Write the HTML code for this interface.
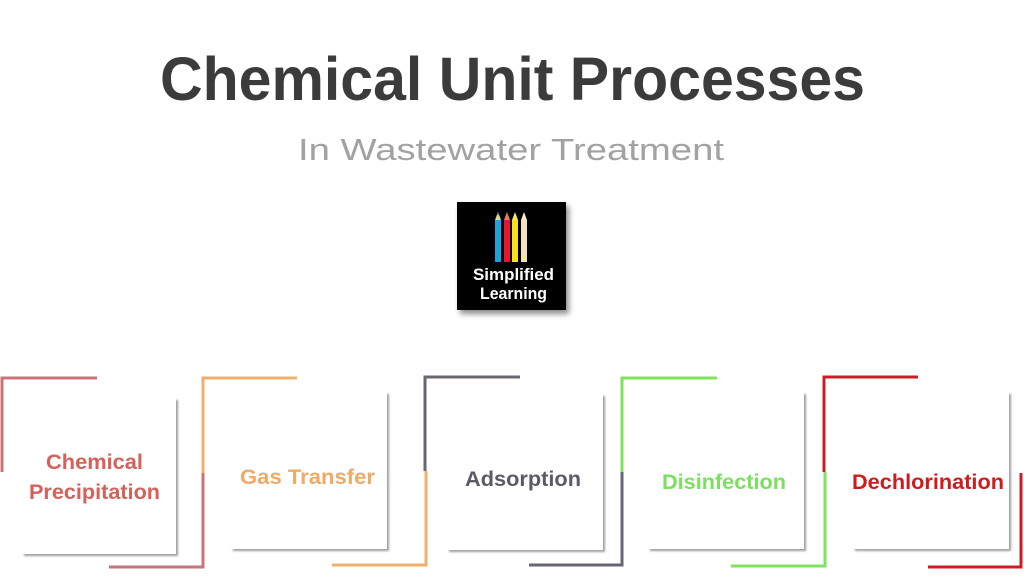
<!DOCTYPE html>
<html>
<head>
<meta charset="utf-8">
<style>
  html,body{margin:0;padding:0;background:#fff;}
  body{width:1024px;height:576px;position:relative;overflow:hidden;font-family:"Liberation Sans",sans-serif;}
  .box{position:absolute;background:#fff;box-shadow:2px 2px 2px rgba(0,0,0,0.38);}
  svg{position:absolute;left:0;top:0;}
</style>
</head>
<body>
<div class="box" style="left:22px;top:398px;width:154px;height:156px;"></div>
<div class="box" style="left:231px;top:392px;width:156px;height:157px;"></div>
<div class="box" style="left:447px;top:394px;width:156px;height:156px;"></div>
<div class="box" style="left:648px;top:392px;width:156px;height:157px;"></div>
<div class="box" style="left:853px;top:392px;width:156px;height:157px;"></div>

<svg width="1024" height="576" viewBox="0 0 1024 576" xmlns="http://www.w3.org/2000/svg">
  <defs>
    <filter id="sh" x="-20%" y="-20%" width="150%" height="150%">
      <feDropShadow dx="3" dy="4" stdDeviation="3" flood-color="#000" flood-opacity="0.45"/>
    </filter>
  </defs>

  <!-- Title -->
  <text x="160" y="100" textLength="705" lengthAdjust="spacingAndGlyphs" font-family="Liberation Sans, sans-serif" font-weight="bold" font-size="61" fill="#3b3b3b">Chemical Unit Processes</text>
  <text x="298" y="160" textLength="426" lengthAdjust="spacingAndGlyphs" font-family="Liberation Sans, sans-serif" font-size="31" fill="#a2a2a2">In Wastewater Treatment</text>

  <!-- Logo -->
  <rect x="457" y="202" width="109" height="108" fill="#000" filter="url(#sh)"/>
  <!-- pencils -->
  <rect x="495" y="220" width="6" height="42" fill="#1ba3dc"/>
  <polygon points="495,220 501,220 498,212" fill="#d8e070"/>
  <polygon points="497,215 499,215 498,212" fill="#1ba3dc"/>
  <rect x="504" y="220" width="6" height="42" fill="#e3182c"/>
  <polygon points="504,220 510,220 507,212" fill="#f08040"/>
  <rect x="512" y="220" width="6" height="42" fill="#f6e21a"/>
  <polygon points="512,220 518,220 515,212" fill="#f8e860"/>
  <rect x="521" y="220" width="6" height="42" fill="#f4e2bc"/>
  <polygon points="521,220 527,220 524,212" fill="#f6ecd0"/>
  <text x="473" y="280" textLength="81" lengthAdjust="spacingAndGlyphs" font-family="Liberation Sans, sans-serif" font-weight="bold" font-size="17" fill="#fff">Simplified</text>
  <text x="480" y="299" textLength="67" lengthAdjust="spacingAndGlyphs" font-family="Liberation Sans, sans-serif" font-weight="bold" font-size="17" fill="#fff">Learning</text>

  <!-- Brackets -->
  <g fill="none" stroke-width="3" stroke-linecap="butt" stroke-linejoin="miter">
    <polyline points="2,472 2,378 97,378" stroke="#c9747b"/>
    <polyline points="109,567 203,567 203,473" stroke="#c9747b"/>

    <polyline points="203,473 203,378 297,378" stroke="#f0b06c"/>
    <polyline points="332,565 426,565 426,471" stroke="#f0b06c"/>

    <polyline points="425,471 425,377 520,377" stroke="#6a6571"/>
    <polyline points="529,565 622,565 622,472" stroke="#6a6571"/>

    <polyline points="622,472 622,378 717,378" stroke="#7ce35c"/>
    <polyline points="731,566 825,566 825,472" stroke="#7ce35c"/>

    <polyline points="824,472 824,377 918,377" stroke="#c81e24"/>
    <polyline points="928,567 1021,567 1021,473" stroke="#c81e24"/>
  </g>

  <!-- Labels -->
  <g font-family="Liberation Sans, sans-serif" font-weight="bold" font-size="21">
    <text x="46" y="469" textLength="97" lengthAdjust="spacingAndGlyphs" fill="#d6605a">Chemical</text>
    <text x="29" y="499" textLength="131" lengthAdjust="spacingAndGlyphs" fill="#d6605a">Precipitation</text>
    <text x="240" y="484" textLength="135" lengthAdjust="spacingAndGlyphs" fill="#eeaa66">Gas Transfer</text>
    <text x="465" y="486" textLength="116" lengthAdjust="spacingAndGlyphs" fill="#5d5966">Adsorption</text>
    <text x="662" y="489" textLength="124" lengthAdjust="spacingAndGlyphs" fill="#79e15e">Disinfection</text>
    <text x="852" y="489" textLength="152" lengthAdjust="spacingAndGlyphs" fill="#cc1c1e">Dechlorination</text>
  </g>
</svg>
</body>
</html>
